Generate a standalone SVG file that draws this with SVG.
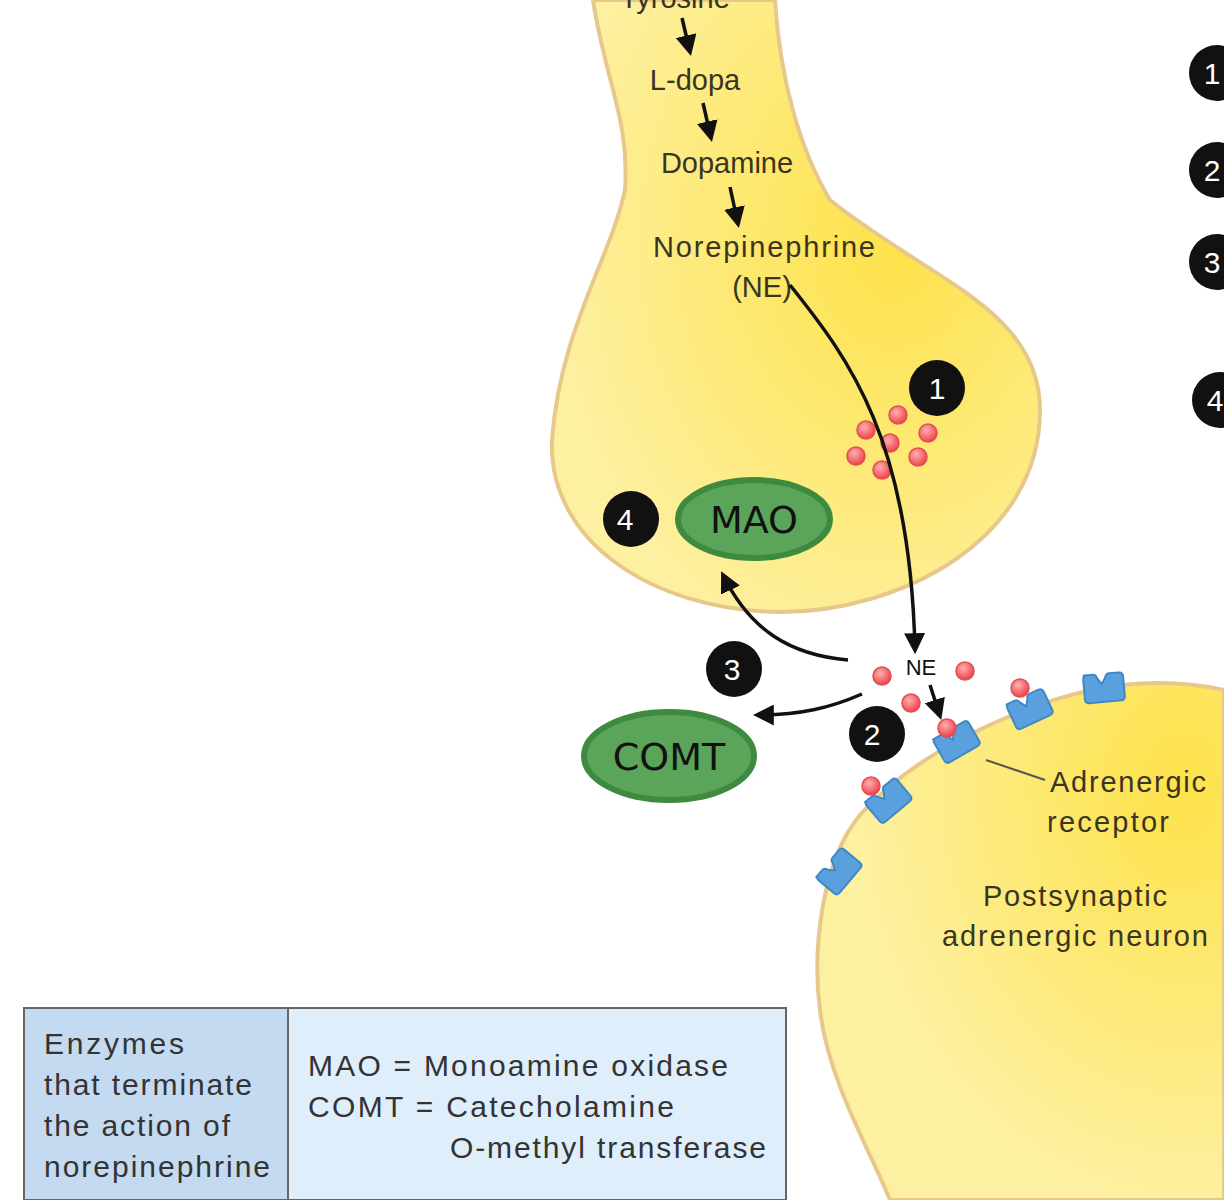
<svg xmlns="http://www.w3.org/2000/svg" width="1224" height="1200" viewBox="0 0 1224 1200">
<defs>
<radialGradient id="gy" cx="0.7" cy="0.4" r="0.7"><stop offset="0" stop-color="#fde24a"/><stop offset="1" stop-color="#fdf0a0"/></radialGradient>
<radialGradient id="gy2" cx="0.9" cy="0.2" r="0.8"><stop offset="0" stop-color="#fde24a"/><stop offset="1" stop-color="#fdf0a0"/></radialGradient>
<radialGradient id="gr" cx="0.4" cy="0.35" r="0.6"><stop offset="0" stop-color="#ffb0b0"/><stop offset="1" stop-color="#f04a55"/></radialGradient>
<marker id="ah" viewBox="0 0 10 10" refX="8" refY="5" markerWidth="6" markerHeight="6" orient="auto"><path d="M0,0 L10,5 L0,10 z" fill="#111"/></marker>
<path id="rc" d="M-18,-14 h10 q3,0 4,4 l4,6 l4,-6 q1,-4 4,-4 h10 q4,0 4,4 v20 q0,4 -4,4 h-32 q-4,0 -4,-4 v-20 q0,-4 4,-4 z"/>
</defs>
<style>
.lbl{font-family:"Liberation Sans",Arial,sans-serif;font-size:29px;fill:#3a3520}
.num{font-family:"Liberation Sans",Arial,sans-serif;font-size:30px;fill:#fff;text-anchor:middle}
.badge{fill:#111}
.ves{fill:url(#gr);stroke:#e05050;stroke-width:1.5}
.rec{fill:#5aa0dc;stroke:#3e88c8;stroke-width:2}
.enz{fill:#5aa55a;stroke:#3e8a3e;stroke-width:6}
.enzt{font-family:"DejaVu Sans",sans-serif;font-size:38px;fill:#111;text-anchor:middle}
.con{fill:none;stroke:#111;stroke-width:3.5;marker-end:url(#ah)}
.box{font-family:"Liberation Sans",Arial,sans-serif;font-size:30px;fill:#333}
</style>
<g id="presynaptic">
<path d="M593,0 C605,80 630,120 625,190 C610,260 560,330 552,440 C548,540 650,610 780,612 C900,612 1040,540 1040,410 C1040,310 930,280 830,200 C800,150 780,80 775,0 Z" fill="url(#gy)" stroke="#e8c88a" stroke-width="4"/>
</g>
<g id="postsynaptic">
<path d="M1224,690 C1160,676 1090,684 1020,712 C960,736 900,770 860,815 C822,860 812,950 820,1010 C828,1080 870,1150 890,1200 L1224,1200 Z" fill="url(#gy2)" stroke="#e8c88a" stroke-width="4"/>
</g>
<g id="pathway">
<text class="lbl" x="675" y="8" text-anchor="middle">Tyrosine</text>
<text class="lbl" x="695" y="90" text-anchor="middle">L-dopa</text>
<text class="lbl" x="727" y="173" text-anchor="middle">Dopamine</text>
<text class="lbl" x="764" y="257" text-anchor="middle" textLength="222">Norepinephrine</text>
<text class="lbl" x="762" y="297" text-anchor="middle">(NE)</text>
</g>
<g id="vesicles">
<circle class="ves" cx="898" cy="415" r="9"/><circle class="ves" cx="866" cy="430" r="9"/><circle class="ves" cx="928" cy="433" r="9"/>
<circle class="ves" cx="890" cy="443" r="9"/><circle class="ves" cx="856" cy="456" r="9"/><circle class="ves" cx="918" cy="457" r="9"/>
<circle class="ves" cx="882" cy="470" r="9"/>
<circle class="ves" cx="882" cy="676" r="9"/><circle class="ves" cx="965" cy="671" r="9"/><circle class="ves" cx="911" cy="703" r="9"/>
</g>
<g id="receptors">
<use href="#rc" class="rec" transform="translate(1102,688) rotate(-5)"/>
<use href="#rc" class="rec" transform="translate(1028,710) rotate(-25)"/>
<use href="#rc" class="rec" transform="translate(955,743) rotate(-30)"/>
<use href="#rc" class="rec" transform="translate(887,802) rotate(-40)"/>
<use href="#rc" class="rec" transform="translate(838,873) rotate(-50)"/>
<circle class="ves" cx="1020" cy="688" r="9"/><circle class="ves" cx="947" cy="728" r="9"/><circle class="ves" cx="871" cy="786" r="9"/>
<line x1="986" y1="760" x2="1045" y2="780" stroke="#555" stroke-width="2"/>
</g>
<g id="connectors">
<path class="con" d="M682,18 L690,52"/>
<path class="con" d="M703,103 L711,138"/>
<path class="con" d="M730,187 L738,224"/>
<path class="con" d="M790,285 C850,360 910,440 915,650"/>
<path class="con" d="M848,660 C790,655 750,630 723,575"/>
<path class="con" d="M862,694 C830,708 800,715 757,715"/>
<path class="con" d="M930,685 L940,716"/>
</g>
<g id="labels">
<text x="921" y="675" font-family="Liberation Sans,Arial,sans-serif" font-size="22" text-anchor="middle" fill="#111">NE</text>
<text class="lbl" x="1128" y="792" text-anchor="middle" textLength="156">Adrenergic</text>
<text class="lbl" x="1108" y="832" text-anchor="middle" textLength="122">receptor</text>
<text class="lbl" x="1075" y="906" text-anchor="middle" textLength="184">Postsynaptic</text>
<text class="lbl" x="1075" y="946" text-anchor="middle" textLength="266">adrenergic neuron</text>
</g>
<g id="mao"><ellipse class="enz" cx="754" cy="519" rx="76" ry="39"/><text class="enzt" x="754" y="533">MAO</text></g>
<g id="comt"><ellipse class="enz" cx="669" cy="756" rx="85" ry="44"/><text class="enzt" x="669" y="770">COMT</text></g>
<g id="badges">
<circle class="badge" cx="937" cy="388" r="28"/><text class="num" x="937" y="399">1</text>
<circle class="badge" cx="631" cy="519" r="28"/><text class="num" x="625" y="530">4</text>
<circle class="badge" cx="734" cy="669" r="28"/><text class="num" x="732" y="680">3</text>
<circle class="badge" cx="877" cy="734" r="28"/><text class="num" x="872" y="745">2</text>
<circle class="badge" cx="1217" cy="73" r="28"/><text class="num" x="1212" y="84">1</text>
<circle class="badge" cx="1217" cy="170" r="28"/><text class="num" x="1212" y="181">2</text>
<circle class="badge" cx="1217" cy="262" r="28"/><text class="num" x="1212" y="273">3</text>
<circle class="badge" cx="1220" cy="400" r="28"/><text class="num" x="1215" y="411">4</text>
</g>
<g id="legend">
<rect x="24" y="1008" width="264" height="192" fill="#c4daf0" stroke="#666" stroke-width="2"/>
<rect x="288" y="1008" width="498" height="192" fill="#deeefa" stroke="#666" stroke-width="2"/>
<text class="box" x="44" y="1054" textLength="140">Enzymes</text>
<text class="box" x="44" y="1095" textLength="208">that terminate</text>
<text class="box" x="44" y="1136" textLength="186">the action of</text>
<text class="box" x="44" y="1177" textLength="226">norepinephrine</text>
<text class="box" x="308" y="1076" textLength="420">MAO = Monoamine oxidase</text>
<text class="box" x="308" y="1117" textLength="366">COMT = Catecholamine</text>
<text class="box" x="450" y="1158" textLength="316">O-methyl transferase</text>
</g>
</svg>
